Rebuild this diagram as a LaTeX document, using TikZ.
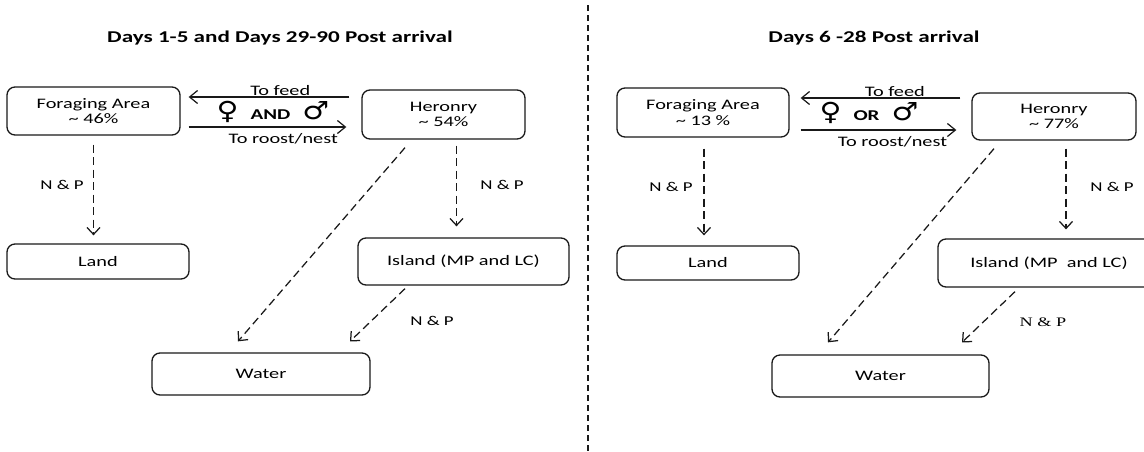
\documentclass[tikz,border=0pt]{standalone}
\usepackage{fontspec}
\setmainfont{Carlito}[FakeStretch=1.4]
\newfontfamily\serifnp{Liberation Serif}[FakeStretch=1.4]
\newfontfamily\symb{DejaVu Sans}[FakeStretch=1.2]
\usetikzlibrary{arrows.meta, calc}

\begin{document}
\begin{tikzpicture}[
    x=1pt, y=-1pt,
    box/.style={draw=black!90, line width=1.3pt, rounded corners=8pt, align=center, inner sep=0pt, font=\fontsize{14.5}{15.5}\selectfont},
    flow/.style={draw=black!90, line width=1.25pt, dash pattern=on 8pt off 4.5pt, -{Straight Barb[length=7pt,width=13pt]}},
    move/.style={draw=black!90, line width=1.2pt, -{Straight Barb[length=8pt,width=13pt]}},
    lbl/.style={font=\fontsize{14.5}{16}\selectfont, inner sep=1pt},
    np/.style={font=\fontsize{13.5}{15}\selectfont, inner sep=0pt},
    sex/.style={font=\fontsize{15}{17}\selectfont\bfseries, inner sep=0pt},
    title/.style={font=\fontsize{16.5}{18}\selectfont\bfseries}
]
    \useasboundingbox (0,0) rectangle (1144,451);
    \clip (0,0) rectangle (1144,451);

    % Titles and divider
    \node[title] (titleL) at (280,38) {Days 1-5 and Days 29-90 Post arrival};
    \node[title] (titleR) at (874,38) {Days 6 -28 Post arrival};
    \draw[black!90, line width=1.4pt, dash pattern=on 6pt off 4pt] (588,5) -- (588,451);

    % Nodes (left)
    \node[box, minimum width=173pt, minimum height=48pt] (forageL) at (93.5,111) {Foraging Area\\\textasciitilde{} 46\%};
    \node[box, minimum width=163pt, minimum height=49pt] (heronL) at (443.5,114.5) {Heronry\\\textasciitilde{} 54\%};
    \node[box, minimum width=182pt, minimum height=35pt] (landL) at (98,261.5) {Land};
    \node[box, minimum width=211pt, minimum height=47pt] (islandL) at (463.5,261.5) {Island (MP and LC)};
    \node[box, minimum width=218pt, minimum height=42pt] (waterL) at (261,374) {Water};

    % Nodes (right)
    \node[box, minimum width=172pt, minimum height=49pt] (forageR) at (703,112.5) {Foraging Area\\\textasciitilde{} 13 \%};
    \node[box, minimum width=164pt, minimum height=47pt] (heronR) at (1054,116.5) {Heronry\\\textasciitilde{} 77\%};
    \node[box, minimum width=182pt, minimum height=34pt] (landR) at (708,263) {Land};
    \node[box, minimum width=222pt, minimum height=48pt] (islandR) at (1049,263) {Island (MP\ \ and LC)};
    \node[box, minimum width=217pt, minimum height=42pt] (waterR) at (880.5,376) {Water};

    % Edges (left)
    \draw[move] ($(heronL.west)+(-12,-17.5)$) -- node[lbl, above, pos=0.43] (feedL) {To feed} ($(forageL.east)+(8,-14)$);
    \draw[move] ($(forageL.east)+(8,16)$) -- node[lbl, below=5pt, pos=0.6] (roostL) {To roost/nest} ($(heronL.west)+(-15,12.5)$);
    \node[sex] (sexL) at (273,112) {{\symb\fontsize{25}{25}\selectfont ♀}\hspace{12pt}AND\hspace{12pt}{\symb\fontsize{25}{25}\selectfont ♂}};
    \draw[flow] ($(forageL.south)+(0,9)$) -- ($(forageL.south |- landL.north)+(0,-8)$);
    \draw[flow] ($(heronL.south)+(13,6)$) -- ($(heronL.south |- islandL.north)+(13,-11)$);
    \draw[flow] ($(heronL.south)+(-38.5,8)$) -- ($(waterL.north)+(-23,-11)$);
    \draw[flow] ($(islandL.south)+(-58.5,3)$) -- ($(waterL.north)+(89,-11)$);
    \node[np] (npFL) at (62,185) {N \& P};
    \node[np] (npHL) at (502,185) {N \& P};
    \node[np] (npIL) at (432,321) {N \& P};

    % Edges (right)
    \draw[move] ($(heronR.west)+(-11,-18.5)$) -- node[lbl, above, pos=0.41] (feedR) {To feed} ($(forageR.east)+(11,-14.5)$);
    \draw[move] ($(forageR.east)+(11,17.5)$) -- node[lbl, below=5pt, pos=0.59] (roostR) {To roost/nest} ($(heronR.west)+(-15,13.5)$);
    \node[sex] (sexR) at (869,113) {{\symb\fontsize{25}{25}\selectfont ♀}\hspace{12pt}OR\hspace{12pt}{\symb\fontsize{25}{25}\selectfont ♂}};
    \draw[flow] ($(forageR.south)+(1,11)$) -- ($(forageR.south |- landR.north)+(1,-10)$);
    \draw[flow] ($(heronR.south)+(12,8)$) -- ($(heronR.south |- islandR.north)+(12,-9)$);
    \draw[flow] ($(heronR.south)+(-60,8)$) -- ($(waterR.north)+(-52.5,-12)$);
    \draw[flow] ($(islandR.south)+(-34,4)$) -- ($(waterR.north)+(81.5,-12)$);
    \node[np] (npFR) at (671,187) {N \& P};
    \node[np] (npHR) at (1112,187) {N \& P};
    \node[np, font=\serifnp\fontsize{13}{15}\selectfont] (npIR) at (1043,322) {N \& P};
\end{tikzpicture}
\end{document}
